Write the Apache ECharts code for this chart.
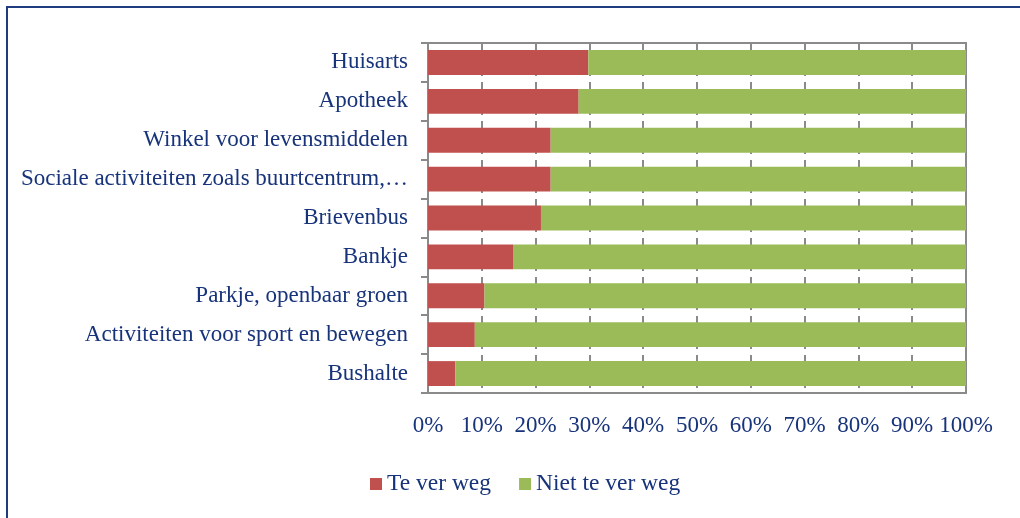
<!DOCTYPE html>
<html>
<head>
<meta charset="utf-8">
<script src="https://cdn.jsdelivr.net/npm/echarts@6/dist/echarts.min.js"></script>
<style>
  html, body { margin: 0; padding: 0; background: #fff; }
  #chart { width: 1020px; height: 518px; }
</style>
</head>
<body>
<div id="chart"></div>
<script>
	// categorieen, van boven naar beneden
	var categories = ['Huisarts', 'Apotheek', 'Winkel voor levensmiddelen', 'Sociale activiteiten zoals buurtcentrum,\u2026',
		'Brievenbus', 'Bankje', 'Parkje, openbaar groen', 'Activiteiten voor sport en bewegen', 'Bushalte'];
	var teVerWeg = [29.8, 28.0, 22.8, 22.8, 21.0, 15.8, 10.5, 8.7, 5.1];
	var nietTeVerWeg = [70.2, 72.0, 77.2, 77.2, 79.0, 84.2, 89.5, 91.3, 94.9];
	var seriesNames = ['Te ver weg', 'Niet te ver weg'];

	var textColor = '#17337a';
	var fontFam = '"Liberation Serif", "Times New Roman", serif';

	var myChart = echarts.init(document.getElementById('chart'));

	var option = {
		color: ['#c0504d', '#9bbb59'],
		textStyle: { fontFamily: fontFam, color: textColor },
		grid: {
			left: 428, right: 54, top: 43, bottom: 125,
			show: true,
			borderColor: '#8a8a8a',
			borderWidth: 2,
			containLabel: false
		},
		graphic: [{
			type: 'rect',
			shape: { x: 7, y: 7, width: 1100, height: 600 },
			style: { fill: 'none', stroke: '#1f3c80', lineWidth: 2 },
			silent: true
		}],
		legend: {
			left: 365,
			top: 467,
			itemWidth: 12,
			itemHeight: 12,
			itemGap: 28,
			icon: 'rect',
			textStyle: { fontFamily: fontFam, fontSize: 23.5, color: textColor },
			data: seriesNames
		},
		xAxis: {
			type: 'value',
			min: 0,
			max: 100,
			interval: 10,
			axisLine: { show: true, lineStyle: { color: '#8a8a8a', width: 2 } },
			axisTick: { show: false },
			axisLabel: {
				formatter: '{value}%',
				fontFamily: fontFam,
				fontSize: 23,
				color: textColor,
				margin: 21
			},
			splitLine: { show: true, lineStyle: { color: '#8a8a8a', width: 2, type: [7, 6] } }
		},
		yAxis: {
			type: 'category',
			inverse: true,
			data: categories,
			axisLine: { show: true, lineStyle: { color: '#8a8a8a', width: 2 } },
			axisTick: { show: true, length: 7, lineStyle: { color: '#8a8a8a', width: 2 } },
			axisLabel: {
				fontFamily: fontFam,
				fontSize: 23,
				color: textColor,
				margin: 20,
				padding: [3, 0, 0, 0]
			}
		},
		series: [
			{
				name: seriesNames[0],
				type: 'bar',
				stack: 'totaal',
				barCategoryGap: '36%',
				data: teVerWeg
			},
			{
				name: seriesNames[1],
				type: 'bar',
				stack: 'totaal',
				barCategoryGap: '36%',
				data: nietTeVerWeg
			}
		]
	};

	myChart.setOption(option);
</script>
</body>
</html>
